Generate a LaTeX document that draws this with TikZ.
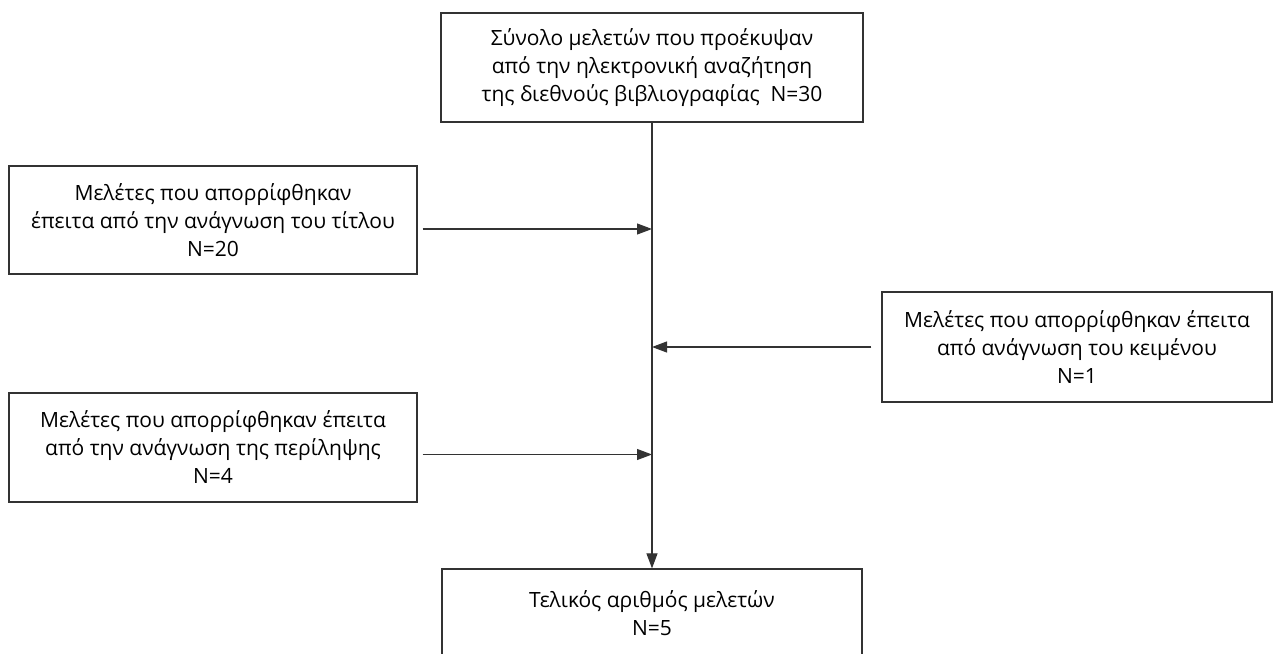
\documentclass[tikz,border=0pt]{standalone}
\usepackage{fontspec}
\setmainfont{Open Sans}
\usetikzlibrary{arrows.meta}
\definecolor{flowgray}{HTML}{333333}

\begin{document}
\begin{tikzpicture}[x=1pt, y=-1pt,
    studybox/.style={draw=flowgray, line width=1.2pt, align=center,
      font=\fontsize{21}{28}\selectfont, inner sep=0pt},
    flowarrow/.style={draw=flowgray, line width=1.1pt,
      -{Triangle[length=15pt, width=11pt]}}]
  \useasboundingbox (0,0) rectangle (1279,653);
  \def\cx{652}   % x of the main line
  % boxes
  \node[studybox, minimum width=422, minimum height=109] (total) at (\cx,67.5)
    {Σύνολο μελετών που προέκυψαν\\ από την ηλεκτρονική αναζήτηση\\ της διεθνούς βιβλιογραφίας~~N=30};
  \node[studybox, minimum width=408, minimum height=108] (title) at (213,220)
    {Μελέτες που απορρίφθηκαν\\ έπειτα από την ανάγνωση του τίτλου\\ N=20};
  \node[studybox, minimum width=390, minimum height=110] (fulltext) at (1077,347)
    {Μελέτες που απορρίφθηκαν έπειτα\\ από ανάγνωση του κειμένου\\ N=1};
  \node[studybox, minimum width=408, minimum height=109] (abstract) at (213,447.5)
    {Μελέτες που απορρίφθηκαν έπειτα\\ από την ανάγνωση της περίληψης\\ N=4};
  \node[studybox, minimum width=420, minimum height=88] (final) at (\cx,613)
    {Τελικός αριθμός μελετών\\ N=5};
  % main line
  \draw[flowarrow] (total.south) -- (final.north);
  % side arrows
  \draw[flowarrow] ([xshift=5pt, yshift=-9pt]title.east) -- ([yshift=-9pt]title.east -| total.south);
  \draw[flowarrow] ([xshift=-10pt]fulltext.west) -- (fulltext.west -| total.south);
  \draw[flowarrow] ([xshift=5pt, yshift=-7pt]abstract.east) -- ([yshift=-7pt]abstract.east -| total.south);
\end{tikzpicture}
\end{document}
